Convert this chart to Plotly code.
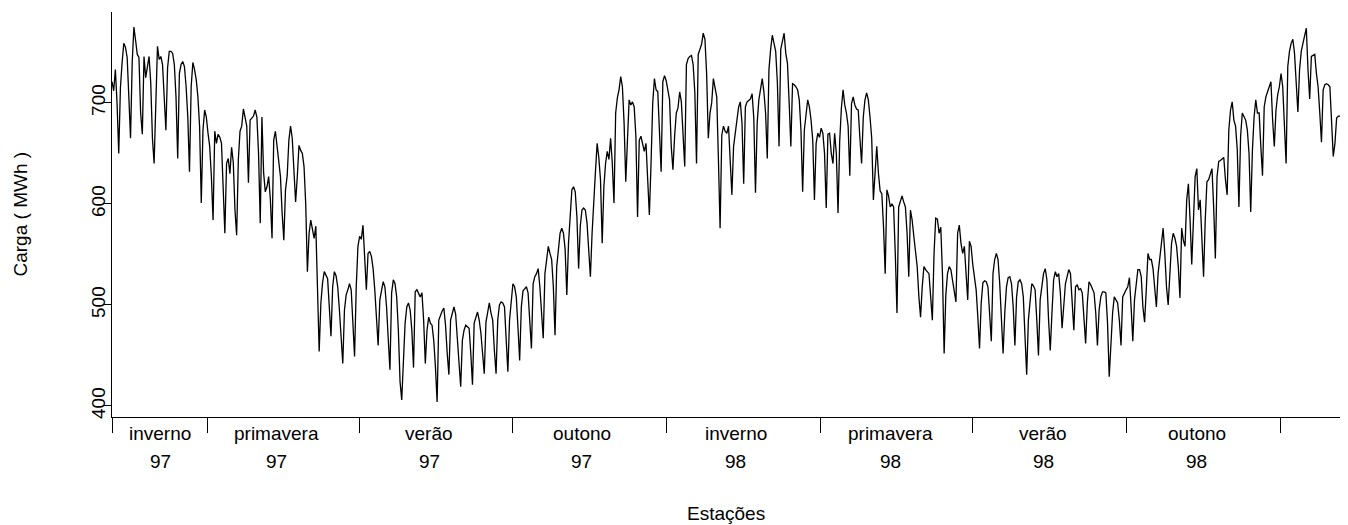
import plotly.graph_objects as go

# Carga diária (MWh), em blocos de ~13 semanas; cada linha vai de segunda a domingo
carga_trim1 = [
    721, 712, 733, 700, 650,
    715, 740, 759, 755, 745, 706, 665,
    740, 775, 762, 748, 745, 690, 669,
    746, 725, 738, 746, 720, 665, 640,
    711, 756, 743, 746, 738, 703, 673,
    735, 751, 751, 749, 738, 706, 645,
    729, 738, 741, 736, 716, 686, 632,
    716, 740, 733, 723, 706, 677, 601,
    673, 693, 686, 670, 657, 627, 584,
    672, 660, 669, 666, 660, 604, 571,
    640, 645, 630, 656, 641, 594, 569,
    644, 672, 677, 694, 686, 677, 621,
    683, 685, 687, 693, 686, 650, 581,
    686, 631, 612, 617, 627, 605, 566,
]
carga_trim2 = [
    663, 672, 657, 641, 627, 591, 564,
    614, 628, 663, 677, 665, 635, 602,
    627, 658, 653, 650, 637, 600, 533,
    571, 584, 575, 566, 578, 510, 454,
    502, 522, 533, 530, 526, 498, 469,
    518, 533, 529, 518, 495, 466, 442,
    495, 510, 515, 521, 515, 478, 449,
    518, 558, 568, 565, 579, 551, 515,
    551, 553, 548, 536, 515, 488, 460,
    505, 515, 523, 518, 498, 466, 436,
    512, 525, 521, 508, 475, 424, 406,
    452, 482, 498, 502, 495, 475, 438,
    513, 515, 512, 508, 512, 485, 442,
]
carga_trim3 = [
    475, 488, 482, 480, 465, 439, 404,
    485, 490, 494, 497, 480, 452, 431,
    485, 493, 498, 491, 469, 446, 419,
    465, 475, 480, 478, 477, 452, 421,
    482, 488, 493, 485, 472, 452, 432,
    483, 495, 502, 492, 485, 455, 432,
    485, 500, 503, 502, 498, 469, 434,
    485, 508, 521, 518, 508, 478, 445,
    498, 514, 516, 518, 512, 485, 457,
    521, 528, 531, 536, 518, 491, 467,
    531, 545, 558, 551, 545, 518, 470,
    538, 558, 571, 576, 571, 555, 510,
    561, 594, 614, 617, 612, 587, 536,
]
carga_trim4 = [
    578, 594, 596, 594, 581, 558, 528,
    571, 610, 632, 660, 646, 624, 561,
    617, 640, 652, 644, 665, 640, 601,
    690, 705, 713, 726, 716, 680, 622,
    663, 703, 698, 701, 696, 667, 587,
    663, 667, 660, 652, 660, 627, 589,
    640, 700, 724, 713, 711, 673, 632,
    721, 727, 722, 714, 703, 657, 634,
    667, 690, 695, 711, 701, 673, 637,
    738, 744, 746, 747, 738, 710, 640,
    748, 753, 758, 769, 763, 729, 665,
    690, 700, 724, 716, 706, 644, 576,
    668, 677, 672, 670, 677, 645, 609,
]
carga_trim5 = [
    657, 670, 685, 696, 701, 680, 620,
    696, 701, 703, 704, 709, 685, 611,
    680, 703, 716, 724, 711, 690, 645,
    733, 753, 767, 759, 751, 720, 657,
    753, 763, 769, 749, 739, 700, 657,
    719, 718, 716, 713, 703, 673, 612,
    673, 688, 703, 696, 683, 663, 604,
    660, 670, 666, 675, 670, 650, 596,
    669, 670, 650, 640, 670, 650, 591,
    662, 695, 713, 698, 690, 677, 628,
    699, 706, 698, 694, 693, 665, 640,
    686, 703, 710, 703, 686, 665, 604,
    630, 657, 630, 613, 610, 578, 531,
]
carga_trim6 = [
    614, 608, 597, 600, 597, 551, 492,
    597, 604, 608, 602, 597, 571, 528,
    594, 584, 568, 551, 538, 508, 488,
    518, 538, 535, 533, 531, 508, 485,
    551, 586, 585, 571, 577, 531, 452,
    510, 531, 538, 535, 525, 515, 503,
    571, 579, 561, 551, 558, 531, 505,
    563, 558, 540, 528, 515, 488, 457,
    502, 522, 524, 523, 518, 492, 464,
    531, 545, 551, 545, 521, 485, 452,
    492, 518, 527, 528, 521, 498, 460,
    508, 523, 525, 521, 508, 469, 431,
    485, 508, 521, 519, 515, 485, 450,
]
carga_trim7 = [
    505, 521, 531, 536, 525, 485, 455,
    492, 525, 533, 528, 531, 512, 477,
    502, 521, 528, 535, 531, 502, 475,
    518, 520, 515, 516, 512, 485, 462,
    502, 523, 520, 515, 512, 492, 460,
    495, 508, 513, 513, 512, 482, 429,
    466, 492, 508, 505, 502, 485, 460,
    508, 512, 515, 518, 527, 498, 464,
    505, 518, 535, 535, 528, 498, 483,
    515, 551, 545, 545, 536, 518, 498,
    531, 545, 564, 576, 551, 518, 500,
    538, 561, 571, 566, 558, 538, 507,
    576, 564, 558, 604, 620, 584, 540,
]
carga_trim8 = [
    584, 627, 635, 594, 604, 570, 528,
    584, 622, 624, 630, 635, 597, 546,
    627, 642, 643, 645, 646, 624, 609,
    673, 693, 701, 683, 677, 654, 597,
    667, 690, 686, 683, 673, 650, 592,
    653, 686, 703, 690, 690, 657, 628,
    696, 706, 711, 716, 721, 683, 657,
    693, 708, 716, 729, 716, 683, 640,
    736, 751, 759, 763, 749, 723, 691,
    733, 751, 759, 767, 774, 733, 704,
    746, 747, 748, 729, 716, 690, 661,
    713, 718, 719, 718, 716, 677, 647,
    660, 685, 687, 687,
]

# Inícios das estações (dia da série) e posição dos rótulos
limites_estacoes = [0, 56.4, 147.2, 238.0, 328.9, 420.3, 511.1, 602.5, 693.9]
pos_rotulos = [28.5, 97.4, 188.2, 279.0, 370.4, 461.9, 552.7, 644.1]
nomes_estacoes = ["inverno", "primavera", "verão", "outono",
                  "inverno", "primavera", "verão", "outono"]
anos_estacoes = ["97", "97", "97", "97", "98", "98", "98", "98"]
ticks_y = [400, 500, 600, 700]

carga = (carga_trim1 + carga_trim2 + carga_trim3 + carga_trim4 +
         carga_trim5 + carga_trim6 + carga_trim7 + carga_trim8)
dias = list(range(len(carga)))

FONTE = "Liberation Sans, Arial, sans-serif"
TAM = 19

fig = go.Figure()
fig.add_trace(go.Scatter(
    x=dias, y=carga, mode="lines",
    line=dict(color="black", width=1.3),
    hoverinfo="skip", showlegend=False,
))

anotacoes = []
for pos, nome, ano in zip(pos_rotulos, nomes_estacoes, anos_estacoes):
    anotacoes.append(dict(x=pos, y=0, xref="x", yref="paper", text=nome,
                          showarrow=False, xanchor="center", yanchor="middle",
                          yshift=-16, font=dict(family=FONTE, size=TAM, color="black")))
    anotacoes.append(dict(x=pos, y=0, xref="x", yref="paper", text=ano,
                          showarrow=False, xanchor="center", yanchor="middle",
                          yshift=-44, font=dict(family=FONTE, size=TAM, color="black")))
anotacoes.append(dict(x=0.5, y=0, xref="paper", yref="paper", text="Estações",
                      showarrow=False, xanchor="center", yanchor="middle",
                      yshift=-96, font=dict(family=FONTE, size=TAM, color="black")))
anotacoes.append(dict(x=0, y=0.5, xref="paper", yref="paper", text="Carga ( MWh )",
                      showarrow=False, xanchor="center", yanchor="middle",
                      xshift=-92, textangle=-90,
                      font=dict(family=FONTE, size=TAM, color="black")))

fig.update_layout(
    width=1348, height=525,
    margin=dict(l=112, r=8, t=12, b=108),
    paper_bgcolor="white", plot_bgcolor="white",
    font=dict(family=FONTE, size=TAM, color="black"),
    annotations=anotacoes,
    xaxis=dict(
        range=[0, len(carga) - 1],
        tickvals=limites_estacoes, showticklabels=False,
        ticks="outside", ticklen=15, tickwidth=1, tickcolor="black",
        showline=True, linecolor="black", linewidth=1,
        showgrid=False, zeroline=False,
    ),
    yaxis=dict(
        range=[389.1, 790],
        tickvals=ticks_y, ticktext=[str(v) for v in ticks_y],
        tickangle=-90, ticklabelstandoff=-9,
        ticks="outside", ticklen=7, tickwidth=1, tickcolor="black",
        tickfont=dict(family=FONTE, size=TAM, color="black"),
        showline=True, linecolor="black", linewidth=1,
        showgrid=False, zeroline=False,
    ),
)

fig.write_html("out.html", config={"displayModeBar": False})
